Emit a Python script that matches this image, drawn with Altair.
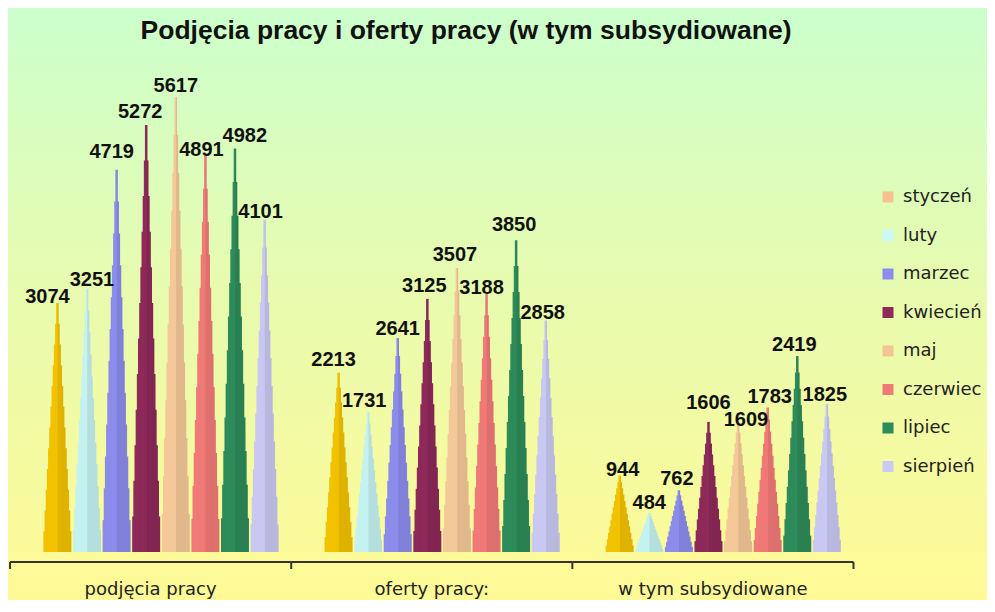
import altair as alt
import pandas as pd

# ---- data ----
groups = ["podjęcia pracy", "oferty pracy:", "w tym subsydiowane"]
months = ["styczeń", "luty", "marzec", "kwiecień", "maj", "czerwiec", "lipiec", "sierpień"]
podjecia = [3074, 3251, 4719, 5272, 5617, 4891, 4982, 4101]
oferty = [2213, 1731, 2641, 3125, 3507, 3188, 3850, 2858]
subsydiowane = [944, 484, 762, 1606, 1609, 1783, 2419, 1825]
title_text = "Podjęcia pracy i oferty pracy (w tym subsydiowane)"

# ---- styles ----
bar_colors = ["#F2C200", "#C4F2F0", "#8C8CEC", "#8E2A5A", "#F4C898", "#F07A78", "#2E8B5A", "#C8C8F2"]
legend_colors = ["#F6C08C", "#CCF8F6", "#8C8CEC", "#8E2A5A", "#F4C494", "#F07A78", "#2E8B5A", "#CACAF4"]
# pixel nudges of the value labels (as placed in the original chart)
label_dx = [-10, 5, -5, -6, 0, -4, 10, -4,
            -5, -4, 0, -3, -2, -5, -2, -3,
            3, 0, -2, 0, 8, 2, -3, -2]
label_dy = [0, -3, -12, -7, -5, 0, -6, -2,
            -7, -5, -3, -7, -7, 0, -9, -1,
            0, -4, -5, -13, 4, -5, -5, -3]

W, H = 979, 592
GW = 9.5          # group width in x units (1 unit = spacing between cones)
FIRST = 1.6       # offset of first cone inside a group
PPU = 29.9        # pixels per x unit
X0 = 0.1
BASE_PX = 544     # pixel row of value 0
K = (544 - 89) / 5617.0  # pixels per value unit

rows = []
for gi, (g, vals) in enumerate(zip(groups, [podjecia, oferty, subsydiowane])):
    for mi, (m, v) in enumerate(zip(months, vals)):
        rows.append({"group": g, "month": m, "value": v, "pos": gi * GW + FIRST + mi})
df = pd.DataFrame(rows)
df["lx"] = df["pos"] + pd.Series(label_dx) / PPU
df["ly"] = df["value"] - pd.Series(label_dy) / K

gdf = pd.DataFrame({"group": groups,
                    "start": [i * GW for i in range(len(groups))],
                    "end": [(i + 1) * GW for i in range(len(groups))]})
gdf["center"] = (gdf["start"] + gdf["end"]) / 2
tdf = pd.DataFrame({"b": [i * GW for i in range(len(groups) + 1)]})

xs = alt.Scale(domain=[X0, X0 + W / PPU], range=[0, W], nice=False, zero=False)
ys = alt.Scale(domain=[-(H - BASE_PX) / K, BASE_PX / K], range=[H, 0], nice=False, zero=False)
bar_scale = alt.Scale(domain=months, range=bar_colors)
leg_scale = alt.Scale(domain=months, range=legend_colors)

grad = alt.LinearGradient(
    gradient="linear",
    stops=[alt.GradientStop(color="#CCFFCC", offset=0),
           alt.GradientStop(color="#E6FBB0", offset=0.45),
           alt.GradientStop(color="#FFFA96", offset=1)],
    x1=0, x2=0, y1=0, y2=1)

bg = alt.Chart(alt.Data(values=[{}])).mark_rect(color=grad).encode(
    x=alt.value(0), x2=alt.value(W), y=alt.value(0), y2=alt.value(H))

layers = [bg]
N = 12
BASE_W = 28
for k in range(N):
    fh = (k + 1) / N
    w = max(2.5, BASE_W * (1 - k / N))
    base = alt.Chart(df).transform_calculate(top=f"datum.value * {fh}")
    layers.append(base.mark_bar(width=w).encode(
        x=alt.X("pos:Q", scale=xs, axis=None),
        y=alt.Y("top:Q", scale=ys, axis=None),
        y2=alt.datum(0),
        color=alt.Color("month:N", scale=bar_scale, legend=None)))
    layers.append(base.mark_bar(width=w * 0.4, xOffset=w * 0.3, color="black", opacity=0.08).encode(
        x=alt.X("pos:Q", scale=xs, axis=None),
        y=alt.Y("top:Q", scale=ys, axis=None),
        y2=alt.datum(0)))

labels = alt.Chart(df).mark_text(font="Liberation Sans", fontSize=20, fontWeight="bold",
                                 color="#111111", baseline="alphabetic").encode(
    x=alt.X("lx:Q", scale=xs, axis=None),
    y=alt.Y("ly:Q", scale=ys, axis=None),
    text="value:Q")

axis_line = alt.Chart(gdf).mark_rule(color="#333333", strokeWidth=2).encode(
    x=alt.X("start:Q", scale=xs, axis=None), x2="end:Q", y=alt.value(554))
ticks = alt.Chart(tdf).mark_rule(color="#333333", strokeWidth=2).encode(
    x=alt.X("b:Q", scale=xs, axis=None), y=alt.value(554), y2=alt.value(561))
glabels = alt.Chart(gdf).mark_text(font="DejaVu Sans", fontSize=18, color="#222222",
                                   baseline="alphabetic").encode(
    x=alt.X("center:Q", scale=xs, axis=None), y=alt.value(587), text="group:N")

title = alt.Chart(alt.Data(values=[{"t": title_text}])).mark_text(
    font="Liberation Sans", fontSize=26.5, fontWeight="bold", color="#111111").encode(
    x=alt.value(458), y=alt.value(23), text="t:N")

legend_src = alt.Chart(pd.DataFrame({"month": months})).mark_square(
    size=121, filled=True, opacity=1).encode(
    x=alt.value(-200), y=alt.value(-200),
    color=alt.Color("month:N", scale=leg_scale, legend=alt.Legend(
        orient="none", legendX=871, legendY=180, title=None,
        symbolType="square", symbolSize=121, symbolStrokeWidth=0,
        labelFont="DejaVu Sans", labelFontSize=18, labelColor="#222222",
        rowPadding=20.5, labelOffset=6, padding=0)))

layers += [labels, axis_line, ticks, glabels, title, legend_src]

chart = alt.layer(*layers).resolve_scale(color="independent").properties(
    width=W, height=H, padding=0,
    autosize=alt.AutoSizeParams(type="none")
).configure_view(stroke=None)

chart.save("out.html", embed_options={"renderer": "svg", "actions": False})
